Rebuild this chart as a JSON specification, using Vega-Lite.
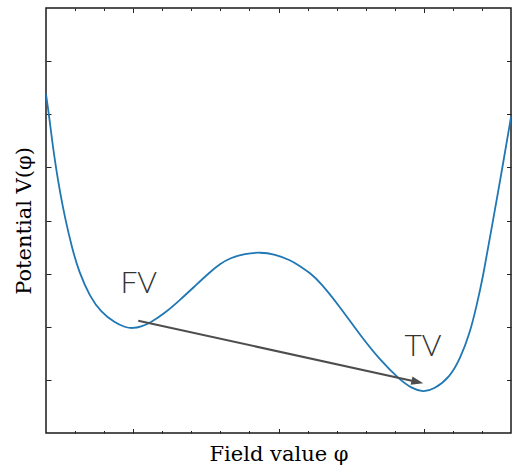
{
  "$schema": "https://vega.github.io/schema/vega-lite/v6.json",
  "width": 465,
  "height": 425,
  "autosize": "none",
  "padding": {"left": 46, "top": 8, "right": 1, "bottom": 36},
  "background": "white",
  "config": {
    "view": {"stroke": "#1a1a1a", "strokeWidth": 1.5},
    "axis": {"labels": false, "domain": false, "grid": false, "tickColor": "#222", "tickWidth": 1,
      "titleFont": "DejaVu Serif", "titleFontSize": 21, "titleFontWeight": "normal", "titleColor": "#000"}
  },
  "datasets": {
    "curve": [
      {"phi": -1.6, "V": 6.381},
      {"phi": -1.5794, "V": 5.986},
      {"phi": -1.5587, "V": 5.515},
      {"phi": -1.5312, "V": 4.988},
      {"phi": -1.5037, "V": 4.536},
      {"phi": -1.4692, "V": 4.047},
      {"phi": -1.4211, "V": 3.482},
      {"phi": -1.3729, "V": 3.031},
      {"phi": -1.2972, "V": 2.56},
      {"phi": -1.2215, "V": 2.278},
      {"phi": -1.1252, "V": 2.071},
      {"phi": -1.0563, "V": 1.99},
      {"phi": -1.0013, "V": 1.968},
      {"phi": -0.9462, "V": 2.0},
      {"phi": -0.8843, "V": 2.071},
      {"phi": -0.7811, "V": 2.259},
      {"phi": -0.6779, "V": 2.504},
      {"phi": -0.5746, "V": 2.767},
      {"phi": -0.4714, "V": 3.031},
      {"phi": -0.4026, "V": 3.181},
      {"phi": -0.3338, "V": 3.294},
      {"phi": -0.2306, "V": 3.375},
      {"phi": -0.1273, "V": 3.405},
      {"phi": -0.0241, "V": 3.365},
      {"phi": 0.0791, "V": 3.256},
      {"phi": 0.1479, "V": 3.144},
      {"phi": 0.2168, "V": 3.012},
      {"phi": 0.2856, "V": 2.842},
      {"phi": 0.4232, "V": 2.372},
      {"phi": 0.5608, "V": 1.845},
      {"phi": 0.6985, "V": 1.374},
      {"phi": 0.8361, "V": 0.998},
      {"phi": 0.9187, "V": 0.84},
      {"phi": 0.9944, "V": 0.77},
      {"phi": 1.0701, "V": 0.82},
      {"phi": 1.1802, "V": 1.054},
      {"phi": 1.249, "V": 1.393},
      {"phi": 1.3178, "V": 1.882},
      {"phi": 1.366, "V": 2.428},
      {"phi": 1.4073, "V": 2.936},
      {"phi": 1.4692, "V": 3.896},
      {"phi": 1.5381, "V": 4.951},
      {"phi": 1.6, "V": 5.948}
    ],
    "arrow": [{"x": -0.965, "y": 2.114, "x2": 0.956, "y2": 0.96}],
    "labels": [
      {"x": -0.962, "y": 2.635, "text": "FV"},
      {"x": 0.994, "y": 1.449, "text": "TV"}
    ]
  },
  "layer": [
    {
      "data": {"name": "curve"},
      "mark": {"type": "line", "color": "#1f77b4", "strokeWidth": 1.8, "interpolate": "basis", "clip": true},
      "encoding": {
        "x": {"field": "phi", "type": "quantitative",
          "scale": {"domain": [-1.6, 1.6], "nice": false, "zero": false},
          "axis": {"orient": "bottom", "title": "Field value φ", "titleBaseline": "alphabetic", "titlePadding": 27,
            "values": [-1.4, -1.2, -1.0, -0.8, -0.6, -0.4, -0.2, 0, 0.2, 0.4, 0.6, 0.8, 1.0, 1.2, 1.4],
            "tickSize": {"condition": {"test": "abs(datum.value - round(datum.value)) < 0.001", "value": -4.5}, "value": -2.5}}},
        "y": {"field": "V", "type": "quantitative",
          "scale": {"domain": [0, 8], "nice": false, "zero": false},
          "axis": {"orient": "left", "title": "Potential V(φ)", "titleBaseline": "alphabetic", "titlePadding": 15,
            "values": [1, 2, 3, 4, 5, 6, 7], "tickSize": -5}}
      }
    },
    {
      "data": {"name": "curve"},
      "mark": {"type": "line", "opacity": 0},
      "encoding": {
        "x": {"field": "phi", "type": "quantitative",
          "axis": {"orient": "top", "title": null,
            "values": [-1.4, -1.2, -1.0, -0.8, -0.6, -0.4, -0.2, 0, 0.2, 0.4, 0.6, 0.8, 1.0, 1.2, 1.4],
            "tickSize": {"condition": {"test": "abs(datum.value - round(datum.value)) < 0.001", "value": -4.5}, "value": -2.5}}},
        "y": {"field": "V", "type": "quantitative",
          "axis": {"orient": "right", "title": null, "values": [1, 2, 3, 4, 5, 6, 7], "tickSize": -4.5}}
      }
    },
    {
      "data": {"name": "arrow"},
      "mark": {"type": "rule", "color": "#4d4d4d", "strokeWidth": 2},
      "encoding": {
        "x": {"field": "x", "type": "quantitative", "axis": null},
        "y": {"field": "y", "type": "quantitative", "axis": null},
        "x2": {"field": "x2"},
        "y2": {"field": "y2"}
      }
    },
    {
      "data": {"name": "arrow"},
      "mark": {"type": "point", "shape": "M-1,-0.7L1,0L-1,0.7Z", "size": 144, "angle": 12.4, "filled": true, "color": "#4d4d4d", "opacity": 1},
      "encoding": {
        "x": {"field": "x2", "type": "quantitative", "axis": null},
        "y": {"field": "y2", "type": "quantitative", "axis": null}
      }
    },
    {
      "data": {"name": "labels"},
      "mark": {"type": "text", "font": "Lato", "fontWeight": 300, "fontSize": 30, "color": "#333", "align": "center", "baseline": "alphabetic"},
      "encoding": {
        "x": {"field": "x", "type": "quantitative", "axis": null},
        "y": {"field": "y", "type": "quantitative", "axis": null},
        "text": {"field": "text"}
      }
    }
  ],
  "resolve": {"axis": {"x": "independent", "y": "independent"}}
}
